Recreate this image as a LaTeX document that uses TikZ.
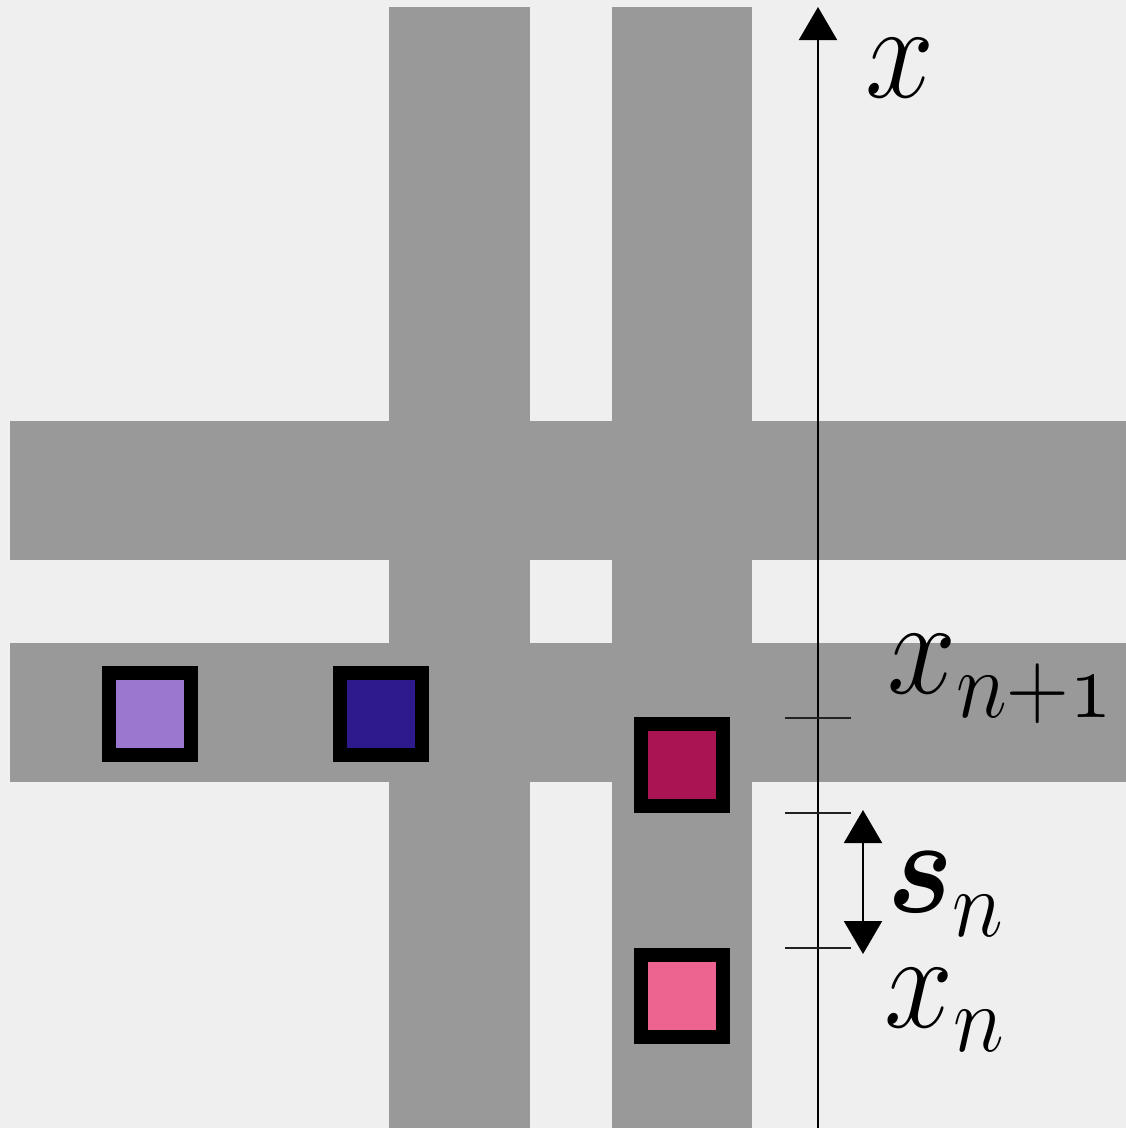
\RequirePackage{fix-cm}
\documentclass[tikz,border=0pt]{standalone}
\usepackage{amsmath,bm}
\usetikzlibrary{arrows.meta}
\definecolor{bgc}{HTML}{EFEFEF}
\definecolor{roadc}{HTML}{999999}
\definecolor{lpurple}{HTML}{9B77CF}
\definecolor{dblue}{HTML}{2E1A8C}
\definecolor{crimson}{HTML}{AA1452}
\definecolor{pinkc}{HTML}{EE6490}
\definecolor{tickc}{HTML}{222222}
\tikzset{
  road/.style={fill=roadc, draw=none},
  car/.style={draw=black, line width=14pt, minimum size=82pt, inner sep=0pt, outer sep=0pt},
  tickline/.style={draw=tickc, line width=2pt},
  axisline/.style={draw=black, line width=2pt},
  lbl/.style={inner sep=0pt, outer sep=0pt, font=\fontsize{124}{130}\selectfont},
}
\newcommand{\vstr}[1]{\scalebox{1}[1.1]{#1}}
\newcommand{\sbs}[1]{\raisebox{-4pt}{$\scriptstyle #1$}}
\begin{document}
\begin{tikzpicture}[x=1pt, y=-1pt]
\fill[bgc] (0,0) rectangle (1126,1128);
\useasboundingbox (0,0) rectangle (1126,1128);
% roads
\path[road] (389,7) rectangle (530,1128);
\path[road] (612,7) rectangle (752,1128);
\path[road] (10,421) rectangle (1126,560);
\path[road] (10,643) rectangle (1126,782);
% cars
\node[car, fill=lpurple] (c1) at (150,713.5) {};
\node[car, fill=dblue] (c2) at (381,713.5) {};
\node[car, fill=crimson] (c3) at (682,765) {};
\node[car, fill=pinkc] (c4) at (682,996) {};
% axis
\coordinate (ab) at (818,1128);
\coordinate (at) at (818,7);
\draw[axisline, -{Triangle[width=38pt,length=33pt]}] (ab) -- (at);
% ticks
\coordinate (t1a) at (785,718); \coordinate (t1b) at (851,718);
\coordinate (t2a) at (785,813); \coordinate (t2b) at (851,813);
\coordinate (t3a) at (785,948); \coordinate (t3b) at (851,948);
\draw[tickline] (t1a) -- (t1b);
\draw[tickline] (t2a) -- (t2b);
\draw[tickline] (t3a) -- (t3b);
% s_n arrow
\coordinate (sa) at (863,810);
\coordinate (sb) at (863,954);
\draw[axisline, {Triangle[width=38pt,length=33pt]}-{Triangle[width=38pt,length=33pt]}] (sa) -- (sb);
% labels
\node[lbl, anchor=base west] (lx) at (865,97) {\vstr{$x$}};
\node[lbl, anchor=base west] (lxn1) at (887,693) {\vstr{$x_{\sbs{n+\mathnormal{1}}}$}};
\node[lbl, anchor=base west] (lsn) at (887,912) {\vstr{$\boldsymbol{s}_{\sbs{n}}$}};
\node[lbl, anchor=base west] (lxn) at (884,1027) {\vstr{$x_{\sbs{n}}$}};
\end{tikzpicture}
\end{document}
